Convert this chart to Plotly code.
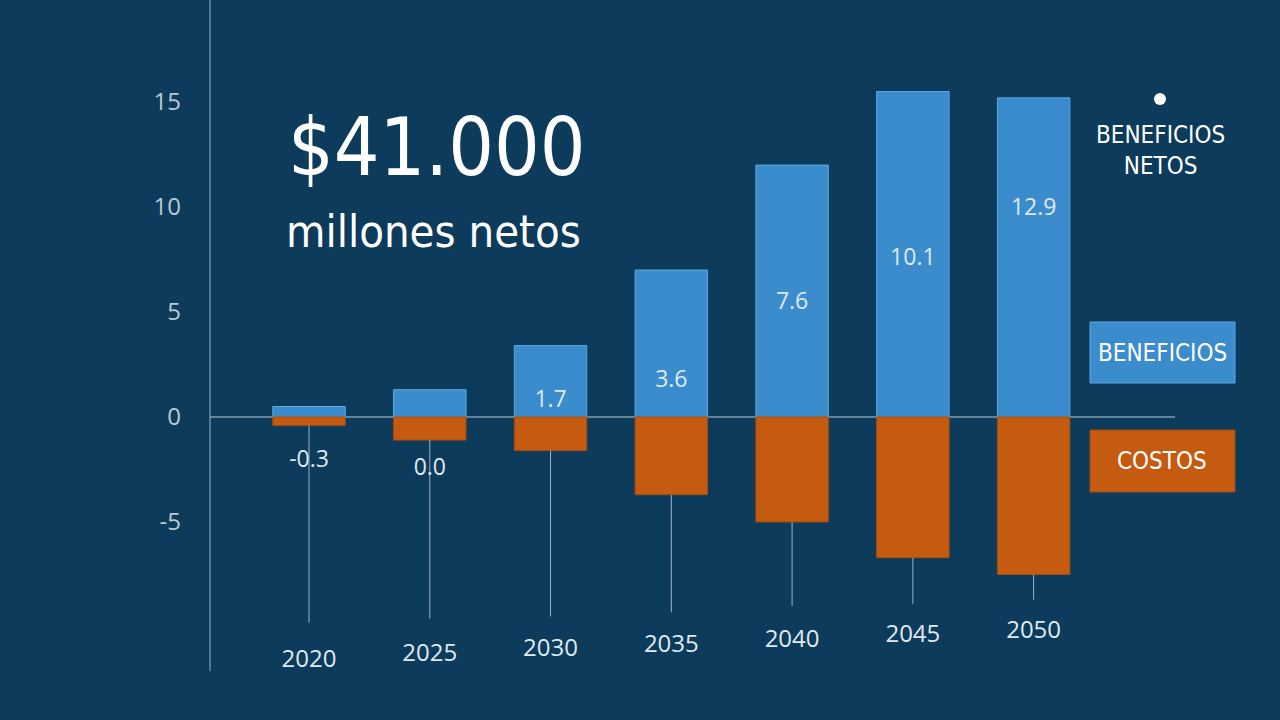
import plotly.graph_objects as go

# datos (miles de millones)
years = ["2020", "2025", "2030", "2035", "2040", "2045", "2050"]
beneficios = [0.5, 1.3, 3.4, 7.0, 12.0, 15.5, 15.2]
costos = [-0.4, -1.1, -1.6, -3.7, -5.0, -6.7, -7.5]
netos = ["-0.3", "0.0", "1.7", "3.6", "7.6", "10.1", "12.9"]
netos_y = [-2.1, -2.5, 0.75, 1.7, 5.4, 7.5, 9.9]
year_label_y = [-11.6, -11.35, -11.1, -10.9, -10.65, -10.45, -10.25]
drop_end = [-9.8, -9.6, -9.5, -9.3, -9.0, -8.9, -8.7]
y_ticks = [-5, 0, 5, 10, 15]
y_ticktext = ["-5", "0", "5", "10", "15"]

bg = "#0d3b5c"
blue = "#3a8ccc"
orange = "#c55b10"
light = "#dfe9f1"
cond = "Liberation Sans Narrow, DejaVu Sans Condensed, Roboto"

fig = go.Figure()

# lineas verticales bajo cada barra
lx, ly = [], []
for yr, c, e in zip(years, costos, drop_end):
    lx += [yr, yr, None]
    ly += [c, e, None]
fig.add_trace(go.Scatter(x=lx, y=ly, mode="lines", line=dict(color="#9db2c3", width=1),
                         hoverinfo="skip", showlegend=False))

fig.add_trace(go.Bar(x=years, y=beneficios, name="BENEFICIOS", marker_color=blue,
                     marker_line=dict(color="#5ea8e0", width=1), width=0.6))
fig.add_trace(go.Bar(x=years, y=costos, name="COSTOS", marker_color=orange,
                     marker_line=dict(color="#a84a0a", width=1), width=0.6))

fig.add_trace(go.Scatter(x=years, y=netos_y, mode="text", text=netos,
                         textfont=dict(color=light, size=23, family="Open Sans"),
                         hoverinfo="skip", showlegend=False))
fig.add_trace(go.Scatter(x=years, y=year_label_y, mode="text", text=years,
                         textfont=dict(color=light, size=24, family="Open Sans"),
                         hoverinfo="skip", showlegend=False))

# eje cero y eje vertical
fig.add_shape(type="line", xref="x", yref="y", x0=-0.82, x1=7.17, y0=0, y1=0,
              line=dict(color="#b9cad6", width=1), layer="below")
fig.add_shape(type="line", xref="paper", yref="y", x0=210/1280, x1=210/1280, y0=-12.1, y1=20,
              line=dict(color="#9db2c3", width=1))


# leyenda dibujada a mano
def py(p):
    return 1 - p / 720


def label(x, y, text, size, family=cond, xanchor="center"):
    fig.add_annotation(x=x / 1280, y=py(y), xref="paper", yref="paper",
                       xanchor=xanchor, yanchor="middle", text=text, showarrow=False,
                       font=dict(color="white", size=size, family=family))


fig.add_shape(type="circle", xref="paper", yref="paper",
              x0=1154/1280, x1=1166/1280, y0=py(105), y1=py(93),
              fillcolor="white", line=dict(color="white", width=0))
label(1160, 150, "BENEFICIOS<br>NETOS", 24)
fig.add_shape(type="rect", xref="paper", yref="paper",
              x0=1090/1280, x1=1235/1280, y0=py(383), y1=py(322),
              fillcolor=blue, line=dict(color="#5ea8e0", width=1))
label(1162, 353, "BENEFICIOS", 24)
fig.add_shape(type="rect", xref="paper", yref="paper",
              x0=1090/1280, x1=1235/1280, y0=py(492), y1=py(430),
              fillcolor=orange, line=dict(color="#a84a0a", width=1))
label(1162, 461, "COSTOS", 24)

# titulo
label(286, 148, "$41.000", 80, xanchor="left")
label(284, 232, "millones netos", 45, xanchor="left")

fig.update_layout(
    width=1280, height=720,
    margin=dict(l=0, r=0, t=0, b=0),
    paper_bgcolor=bg, plot_bgcolor=bg,
    barmode="relative", showlegend=False,
    xaxis=dict(domain=[210/1280, 1], range=[-0.82, 8.04], showticklabels=False,
               showgrid=False, zeroline=False, showline=False, fixedrange=True),
    yaxis=dict(range=[-14.43, 19.86], tickvals=y_ticks, ticktext=y_ticktext,
               showgrid=False, zeroline=False,
               showline=False, automargin=False, ticklabelstandoff=28,
               tickfont=dict(color="#b9cad6", size=24, family="Open Sans")),
)

fig.write_html("out.html", config={"displayModeBar": False},
               post_script="document.body.style.margin='0';")
